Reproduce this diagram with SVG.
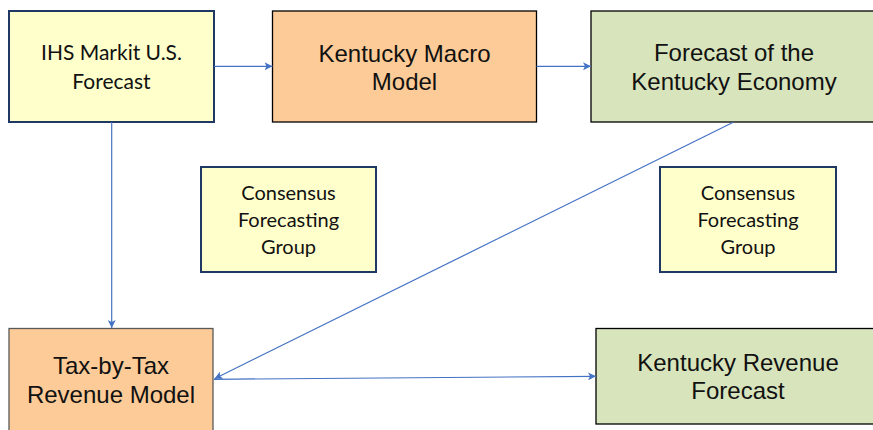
<svg xmlns="http://www.w3.org/2000/svg" width="873" height="430" viewBox="0 0 873 430">
  <defs>
    <marker id="arrow" viewBox="0 0 10 10" refX="10" refY="5" markerWidth="8" markerHeight="8" markerUnits="userSpaceOnUse" orient="auto">
      <path d="M0,0 L10,5 L0,10 L2.5,5 Z" fill="#4472C4"/>
    </marker>
    <style>
      .yellow { fill: #FFFFCC; stroke: #1F3864; stroke-width: 2; }
      .orange { fill: #FDCB97; stroke: #000000; stroke-width: 1.3; }
      .green { fill: #D8E4BC; stroke: #000000; stroke-width: 1.3; }
      .grey-edge { stroke: #595959; }
      .gothic { font-family: "Lato", "Open Sans", sans-serif; font-size: 20px; fill: #111111; text-anchor: middle; }
      .gothic.wide { font-size: 21px; }
      .arial { font-family: "Liberation Sans", Arial, sans-serif; font-size: 24px; fill: #111111; text-anchor: middle; }
      .link { stroke: #4472C4; stroke-width: 1.2; fill: none; marker-end: url(#arrow); }
    </style>
  </defs>
  <rect width="873" height="430" fill="#FFFFFF"/>

  <g id="ihs-forecast">
    <rect class="yellow" x="9" y="11" width="205" height="111"/>
    <text class="gothic wide" x="111.5" y="60">IHS Markit U.S.</text>
    <text class="gothic wide" x="111.5" y="89">Forecast</text>
  </g>

  <g id="ky-macro-model">
    <rect class="orange" x="272.5" y="11" width="264" height="111"/>
    <text class="arial" x="404.5" y="62">Kentucky Macro</text>
    <text class="arial" x="404.5" y="90">Model</text>
  </g>

  <g id="ky-economy-forecast">
    <rect class="green" x="591" y="11" width="290" height="111"/>
    <text class="arial" x="734" y="61">Forecast of the</text>
    <text class="arial" x="734" y="90">Kentucky Economy</text>
  </g>

  <g id="consensus-left">
    <rect class="yellow" x="201" y="167" width="175" height="105"/>
    <text class="gothic" x="288.5" y="200">Consensus</text>
    <text class="gothic" x="288.5" y="227">Forecasting</text>
    <text class="gothic" x="288.5" y="254">Group</text>
  </g>

  <g id="consensus-right">
    <rect class="yellow" x="660" y="167" width="176" height="105"/>
    <text class="gothic" x="748" y="200">Consensus</text>
    <text class="gothic" x="748" y="227">Forecasting</text>
    <text class="gothic" x="748" y="254">Group</text>
  </g>

  <g id="tax-revenue-model">
    <rect class="orange grey-edge" x="9" y="328.5" width="204" height="110"/>
    <text class="arial" x="111" y="374">Tax-by-Tax</text>
    <text class="arial" x="111" y="403">Revenue Model</text>
  </g>

  <g id="ky-revenue-forecast">
    <rect class="green" x="596" y="328.5" width="285" height="95.5"/>
    <text class="arial" x="738" y="371">Kentucky Revenue</text>
    <text class="arial" x="738" y="399">Forecast</text>
  </g>

  <g id="connectors">
    <line class="link" x1="214" y1="66.3" x2="272.5" y2="66.3"/>
    <line class="link" x1="536.5" y1="66.3" x2="591" y2="66.3"/>
    <line class="link" x1="111.7" y1="122" x2="111.7" y2="328"/>
    <line class="link" x1="733.3" y1="122.3" x2="214.5" y2="378.7"/>
    <line class="link" x1="214" y1="379.3" x2="596" y2="376.3"/>
  </g>
</svg>
